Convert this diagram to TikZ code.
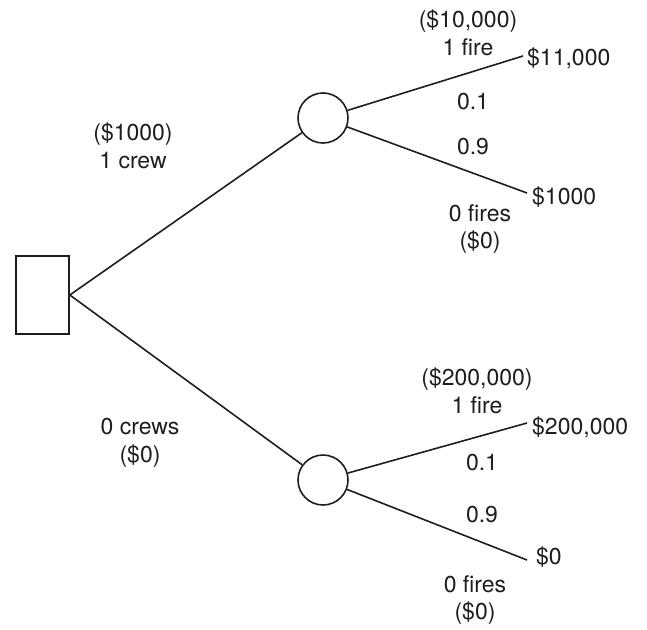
\documentclass[tikz,border=0pt]{standalone}
\usepackage{fontspec}
\setmainfont{TeX Gyre Heros}
\definecolor{ink}{HTML}{1E1E1E}
\begin{document}
\begin{tikzpicture}[x=1pt,y=-1pt,
  branch/.style={line width=1.6pt, draw=ink},
  decision/.style={draw=ink, line width=1.6pt, minimum width=53pt, minimum height=78pt, inner sep=0pt},
  chance/.style={circle, draw=ink, line width=1.6pt, minimum size=50pt, inner sep=0pt},
  lbl/.style={text=ink, font=\fontsize{23}{27.5}\selectfont, align=center, inner sep=0pt},
  payoff/.style={lbl, anchor=west}]
  \useasboundingbox (0,0) rectangle (647,629);

  % decision node and the two chance nodes
  \node[decision] (d) at (42.5,295) {};
  \node[chance] (c1) at (323,118) {};
  \node[chance] (c2) at (323,480) {};

  % end points of the outcome branches
  \coordinate (e1) at (523,56);
  \coordinate (e2) at (527,193);
  \coordinate (e3) at (527,423);
  \coordinate (e4) at (527,560);

  % branches
  \draw[branch] (d.east) -- (c1);
  \draw[branch] (d.east) -- (c2);
  \draw[branch] (c1) -- (e1);
  \draw[branch] (c1) -- (e2);
  \draw[branch] (c2) -- (e3);
  \draw[branch] (c2) -- (e4);

  % alternatives
  \node[lbl] (a1) at (133,146) {(\$1000)\\1 crew};
  \node[lbl] (a0) at (140,443) {0 crews\\(\$0)};

  % outcomes of one crew
  \node[lbl] (f11) at (468,33) {(\$10,000)\\1 fire};
  \node[lbl] (p11) at (473,102) {0.1};
  \node[lbl] (p12) at (473,147) {0.9};
  \node[lbl] (f10) at (480,229) {0 fires\\(\$0)};
  \node[payoff] (v1) at (527,58) {\$11,000};
  \node[payoff] (v2) at (532,197) {\$1000};

  % outcomes of no crew
  \node[lbl] (f21) at (477,391) {(\$200,000)\\1 fire};
  \node[lbl] (p21) at (482,463) {0.1};
  \node[lbl] (p22) at (482,515) {0.9};
  \node[lbl] (f20) at (475,600) {0 fires\\(\$0)};
  \node[payoff] (v3) at (532,427) {\$200,000};
  \node[payoff] (v4) at (536,557) {\$0};
\end{tikzpicture}
\end{document}
